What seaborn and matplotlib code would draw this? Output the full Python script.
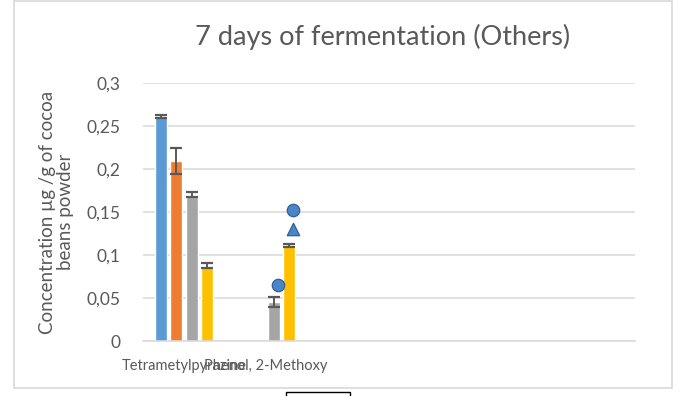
import matplotlib
matplotlib.use("Agg")
import matplotlib.pyplot as plt
import seaborn as sns
import pandas as pd
from matplotlib.patches import Rectangle

# Compounds and sample series
compounds = ["Tetrametylpyrazine", "Phenol, 2-Methoxy"]
series = ["Sample 1", "Sample 2", "Sample 3", "Sample 4"]
values = {
    "Sample 1": [0.261, 0.0],
    "Sample 2": [0.209, 0.0],
    "Sample 3": [0.170, 0.045],
    "Sample 4": [0.0875, 0.111],
}
errors = {
    "Sample 1": [0.0015, 0.0],
    "Sample 2": [0.015, 0.0],
    "Sample 3": [0.003, 0.006],
    "Sample 4": [0.003, 0.0015],
}
# Reference points plotted over the Phenol, 2-Methoxy bars
point_series = ["Sample 3", "Sample 4", "Sample 4"]
point_values = [0.0655, 0.152, 0.130]
point_markers = ["o", "o", "^"]

y_ticks = [0, 0.05, 0.1, 0.15, 0.2, 0.25, 0.3]
y_tick_labels = ["0", "0,05", "0,1", "0,15", "0,2", "0,25", "0,3"]

colors = ["#5B9BD5", "#ED7D31", "#A5A5A5", "#FFC000"]
text_color = "#595959"
grid_color = "#D9D9D9"

rows = []
for s in series:
    for c, v in zip(compounds, values[s]):
        rows.append({"compound": c, "series": s, "value": v})
df = pd.DataFrame(rows)

sns.set_theme(style="white")
plt.rcParams["font.family"] = ["Lato", "DejaVu Sans"]

fig = plt.figure(figsize=(6.81, 3.96), dpi=100)
ax = fig.add_axes([143 / 681, 55 / 396, 492 / 681, 258 / 396])

sns.barplot(data=df, x="compound", y="value", hue="series", order=compounds,
            hue_order=series, palette=colors, width=0.732, gap=0.2,
            errorbar=None, legend=False, saturation=1, ax=ax)

# error bars at bar centres
centers = {}
for s, cont in zip(series, ax.containers):
    xs = [p.get_x() + p.get_width() / 2 for p in cont.patches]
    centers[s] = xs
    for x, v, e in zip(xs, values[s], errors[s]):
        if v > 0:
            ax.errorbar(x, v, yerr=e, fmt="none", ecolor="#595959",
                        elinewidth=1.4, capsize=4.3, capthick=1.6, zorder=4)

# overlay points
for s, v, m in zip(point_series, point_values, point_markers):
    x = centers[s][1] + 0.05
    ax.scatter([x], [v], marker=m, s=80, color="#4A86C5",
               edgecolor="#2F5F96", linewidth=0.9, zorder=5)

ax.set_xlim(-0.5, 5.5)
ax.set_ylim(0, 0.3)
ax.set_yticks(y_ticks)
ax.set_yticklabels(y_tick_labels, fontsize=12.5, color=text_color)
ax.set_xticks(range(len(compounds)))
ax.set_xticklabels(compounds, fontsize=10.5, color=text_color)
ax.tick_params(axis="both", length=0)
ax.tick_params(axis="y", pad=16)
ax.tick_params(axis="x", pad=13)
ax.set_axisbelow(True)
ax.yaxis.grid(True, color=grid_color, linewidth=1.1)
ax.xaxis.grid(False)
for side in ["top", "right", "left"]:
    ax.spines[side].set_visible(False)
ax.spines["bottom"].set_color(grid_color)
ax.spines["bottom"].set_linewidth(1.1)
ax.set_xlabel("")
ax.set_ylabel("Concentration µg /g of cocoa\nbeans powder", fontsize=13.5,
              color=text_color, labelpad=9, linespacing=1.1)

fig.text(383 / 681, 1 - 37 / 396, "7 days of fermentation (Others)",
         ha="center", va="center", fontsize=19.5, color=text_color)

# chart frame and legend box
fig.patches.append(Rectangle((14 / 681, 1 - 388 / 396), 658 / 681, 387 / 396,
                             transform=fig.transFigure, fill=False,
                             edgecolor=grid_color, linewidth=1.2))
fig.patches.append(Rectangle((286 / 681, -0.05), 64 / 681, 0.05 + 4 / 396,
                             transform=fig.transFigure, fill=False,
                             edgecolor="black", linewidth=1.0))

fig.savefig("out.png", dpi=100, facecolor="white")
